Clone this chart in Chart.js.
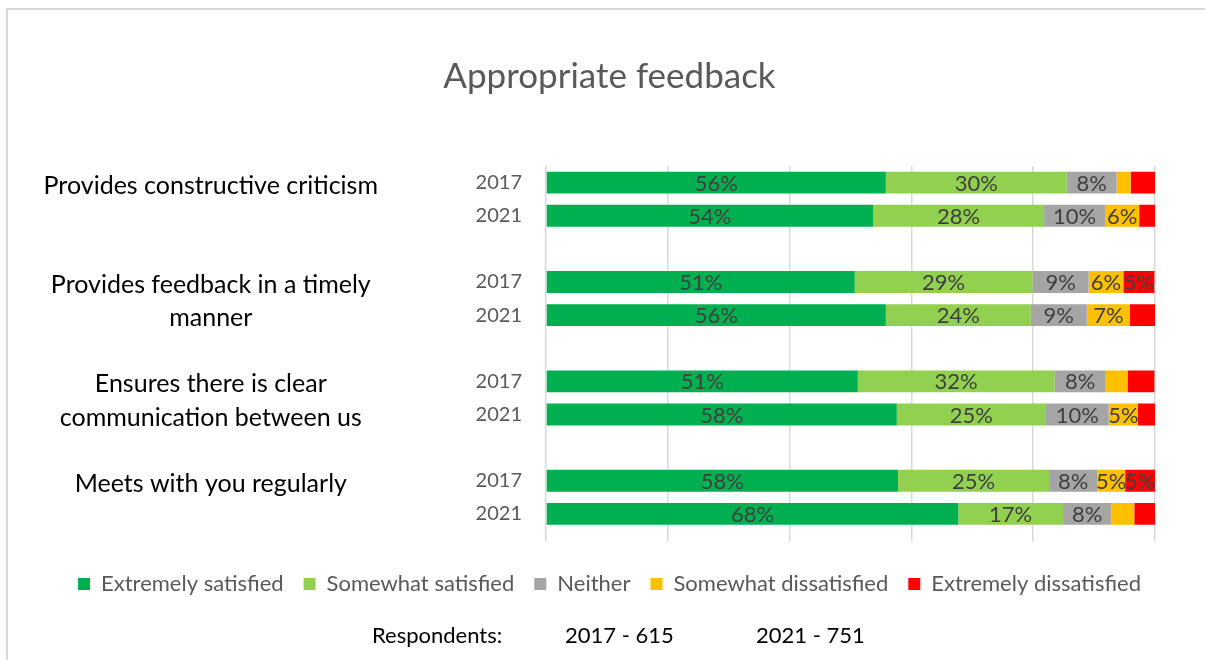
<!DOCTYPE html>
<html lang="en">
<head>
<meta charset="UTF-8">
<title>Appropriate feedback</title>
<script src="https://cdn.jsdelivr.net/npm/chart.js"></script>
<style>
  html, body { margin: 0; padding: 0; overflow: hidden; background: #fff; }
  .frame {
    position: absolute; left: 6px; top: 8px; width: 1400px; height: 900px;
    border-left: 2px solid #d9d9d9; border-top: 2px solid #d9d9d9;
  }
  #chart { position: absolute; left: 0; top: 0; }
  .respondents span {
    position: absolute; top: 621px; line-height: 26px;
    font: 22px Lato, sans-serif; color: #000; white-space: nowrap;
  }
</style>
</head>
<body>
<div class="frame"></div>
<canvas id="chart" width="1205" height="660"></canvas>
<div class="respondents">
  <span style="left:372px">Respondents:</span>
  <span style="left:565px">2017 - 615</span>
  <span style="left:756px">2021 - 751</span>
</div>
<script>
  // group labels (split in lines the way the original wraps them)
  const groups = [
    ['Provides constructive criticism'],
    ['Provides feedback in a timely', 'manner'],
    ['Ensures there is clear', 'communication between us'],
    ['Meets with you regularly']
  ];
  const years = ['2017', '2021'];

  // one value per bar: group1 2017, group1 2021, group2 2017, ...
  const extremelySatisfied    = [55.8, 53.7, 50.7, 55.8, 51.2, 57.6, 57.8, 67.7];
  const somewhatSatisfied     = [29.7, 28.1, 29.2, 23.8, 32.3, 24.5, 24.8, 17.2];
  const neither               = [8.2, 10.0, 9.2, 9.2, 8.4, 10.3, 7.9, 7.9];
  const somewhatDissatisfied  = [2.3, 5.6, 5.7, 7.1, 3.6, 4.8, 4.6, 3.8];
  const extremelyDissatisfied = [4.0, 2.6, 5.1, 4.1, 4.4, 2.8, 4.9, 3.4];

  const seriesNames = ['Extremely satisfied', 'Somewhat satisfied', 'Neither', 'Somewhat dissatisfied', 'Extremely dissatisfied'];
  const seriesColors = ['#00B050', '#92D050', '#A5A5A5', '#FFC000', '#FF0000'];
  const seriesValues = [extremelySatisfied, somewhatSatisfied, neither, somewhatDissatisfied, extremelyDissatisfied];

  // build the rows: 2017, 2021, empty row between groups
  const yearTicks = [];
  const groupTicks = [];
  groups.forEach((lines, g) => {
    years.forEach((yr, k) => {
      yearTicks.push(yr);
      groupTicks.push(lines[k] || '');
    });
    if (g < groups.length - 1) {
      yearTicks.push('');
      groupTicks.push('');
    }
  });

  function toRows(values) {
    const out = [];
    groups.forEach((lines, g) => {
      years.forEach((yr, k) => out.push(values[g * years.length + k]));
      if (g < groups.length - 1) out.push(null);
    });
    return out;
  }

  // percent labels inside the bars (small pieces left without label)
  const segmentLabels = {
    id: 'segmentLabels',
    afterDatasetsDraw(chart) {
      const ctx = chart.ctx;
      ctx.save();
      ctx.font = '22px Lato';
      ctx.fillStyle = '#404040';
      ctx.textAlign = 'center';
      ctx.textBaseline = 'middle';
      chart.data.datasets.forEach((ds, i) => {
        chart.getDatasetMeta(i).data.forEach((bar, j) => {
          const v = ds.data[j];
          if (v == null || v < 4.5) return;
          const p = bar.getProps(['x', 'y', 'base'], true);
          ctx.fillText(Math.round(v) + '%', (p.x + p.base) / 2, p.y + 1);
        });
      });
      ctx.restore();
    }
  };

  Chart.defaults.font.family = 'Lato';

  new Chart(document.getElementById('chart'), {
    type: 'bar',
    data: {
      labels: yearTicks,
      datasets: seriesNames.map((name, i) => ({
        label: name,
        data: toRows(seriesValues[i]),
        backgroundColor: seriesColors[i],
        borderWidth: 0,
        categoryPercentage: 1,
        barPercentage: 0.66
      }))
    },
    options: {
      indexAxis: 'y',
      responsive: false,
      animation: false,
      layout: { padding: { left: 14, right: 0, top: 0, bottom: 55 } },
      scales: {
        x: {
          stacked: true,
          min: 0,
          max: 100,
          ticks: { display: false, stepSize: 20 },
          grid: { color: '#d9d9d9', lineWidth: 1.5, tickLength: 11 },
          border: { display: false },
          afterFit(scale) { scale.height = 22.5; }
        },
        y: {
          stacked: true,
          weight: 0,
          grid: { display: false, drawTicks: false },
          border: { display: false },
          ticks: { autoSkip: false, color: '#595959', font: { size: 20 }, padding: 24 },
          afterFit(scale) { scale.width = 135; }
        },
        yGroup: {
          type: 'category',
          position: 'left',
          labels: groupTicks,
          offset: true,
          weight: 1,
          grid: { display: false, drawTicks: false },
          border: { display: false },
          ticks: { autoSkip: false, crossAlign: 'center', color: '#000', font: { size: 25 }, padding: 33, labelOffset: 3 },
          afterFit(scale) { scale.width = 397; }
        },
        // empty strip on the right side of the plot
        yRight: {
          type: 'category',
          position: 'right',
          labels: [''],
          offset: true,
          grid: { display: false, drawTicks: false },
          border: { display: false },
          ticks: { display: false },
          afterFit(scale) { scale.width = 50; }
        }
      },
      plugins: {
        title: {
          display: true,
          text: 'Appropriate feedback',
          color: '#595959',
          font: { size: 35, weight: 'normal' },
          padding: { top: 56, bottom: 68 }
        },
        legend: {
          position: 'bottom',
          labels: {
            boxWidth: 12,
            boxHeight: 12,
            color: '#595959',
            font: { size: 22 },
            padding: 20
          }
        },
        tooltip: { enabled: false }
      }
    },
    plugins: [segmentLabels]
  });
</script>
</body>
</html>
